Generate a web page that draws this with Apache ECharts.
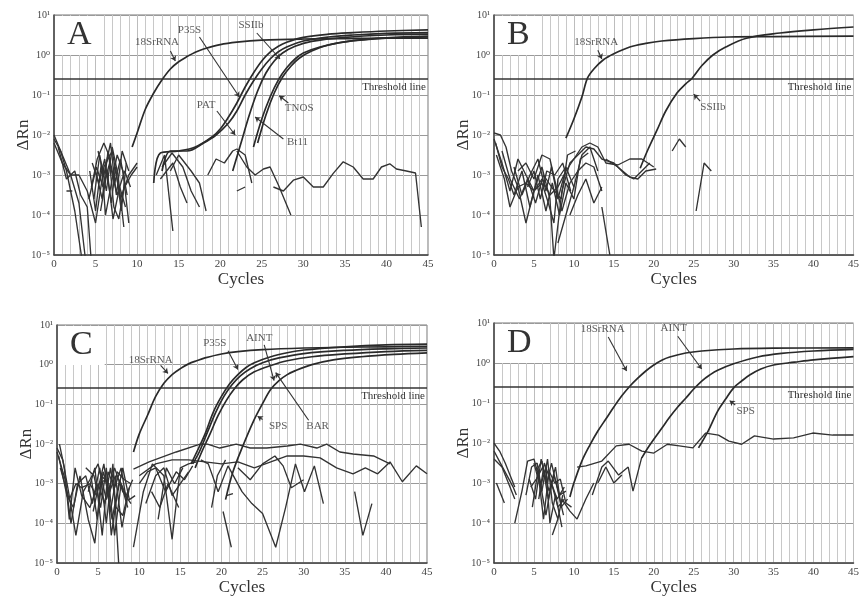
<!DOCTYPE html>
<html lang="en">
<head>
  <meta charset="utf-8">
  <title>Real-time PCR amplification plots A-D</title>
  <script type="text/javascript" src="https://cdn.jsdelivr.net/npm/echarts@6/dist/echarts.min.js"></script>
  <style type="text/css">
    * { margin: 0; padding: 0; }
    html, body, #chart { width: 100%; height: 100%; overflow: hidden; background: #fff; }
  </style>
</head>
<body>
  <div id="chart"></div>
  <script type="text/javascript">
    // every point is [cycle, log10(ΔRn)]
    var threshold = 0.26;

    // ---- panel A ----
    var a18S = [[9.4,-2.3],[10,-1.95],[11,-1.35],[12,-0.95],[13,-0.62],[14,-0.35],[15,-0.17],[16,-0.04],[17,0.07],[18,0.15],[20,0.26],[22,0.32],[25,0.37],[30,0.4],[35,0.41],[40,0.42],[45,0.42]];
    var aP35S = [[12,-3.2],[12.8,-2.45],[15,-2.4],[17,-2.3],[19,-2.05],[20,-1.85],[21,-1.55],[22,-1.2],[23,-0.8],[24,-0.45],[25,-0.15],[26,0.07],[27,0.22],[28,0.32],[30,0.44],[33,0.52],[36,0.56],[40,0.6],[45,0.63]];
    var aSSIIb = [[13,-2.9],[14,-2.4],[16,-2.4],[18,-2.2],[19.5,-2.0],[21,-1.7],[22,-1.4],[23,-1.0],[24,-0.65],[25,-0.35],[26,-0.1],[27,0.08],[28,0.2],[30,0.35],[33,0.45],[36,0.5],[40,0.54],[45,0.56]];
    var aPAT = [[21.5,-2.9],[22.5,-2.2],[23.5,-1.5],[24.5,-0.9],[25.5,-0.45],[26.5,-0.15],[27.5,0.05],[29,0.22],[31,0.34],[35,0.44],[40,0.5],[45,0.52]];
    var aTNOS = [[24.5,-2.2],[25.5,-1.5],[26.5,-0.95],[27.5,-0.55],[28.5,-0.28],[29.5,-0.08],[31,0.1],[33,0.25],[36,0.36],[40,0.43],[45,0.47]];
    var aBt11 = [[24,-2.3],[25,-1.6],[26,-1.05],[27,-0.62],[28,-0.32],[29,-0.1],[30,0.05],[32,0.2],[35,0.33],[40,0.42],[45,0.45]];
    var aNoise = [
      [[0,-2.0],[1,-2.5],[2,-3.0],[3,-3.7],[4,-5.5]],
      [[0,-2.1],[0.8,-2.4],[1.5,-2.9],[2.5,-3.9],[3.5,-5.3]],
      [[0,-2.2],[1,-2.7],[2,-3.0],[3,-3.0],[4,-3.4],[5,-4.2],[6,-2.8],[7,-2.4],[8,-3.6],[9,-3.0],[10,-2.7]],
      [[0.5,-2.3],[1.5,-3.1],[2.5,-2.9],[3.2,-3.5],[4,-3.8],[4.5,-5.2]],
      [[4.5,-3.3],[5.2,-2.6],[6,-2.2],[6.6,-2.5],[7.2,-3.8],[7.8,-4.1],[8.5,-3.2]],
      [[4.8,-3.6],[5.5,-2.5],[6.3,-3.4],[7,-2.3],[7.7,-3.0],[8.4,-4.3]],
      [[5,-2.9],[5.8,-3.6],[6.5,-2.4],[7.3,-3.2],[8,-2.6],[8.8,-3.5]],
      [[4.3,-2.9],[5,-3.9],[5.7,-2.7],[6.2,-4.0],[7,-3.1],[7.6,-2.5],[8.3,-2.9],[9,-4.2]],
      [[5.3,-2.4],[6,-3.0],[6.8,-2.2],[7.5,-3.5],[8.2,-2.4],[9,-2.9]],
      [[4.6,-2.7],[5.4,-3.2],[6.1,-2.6],[6.9,-3.7],[7.4,-2.8],[8.1,-3.9],[8.7,-2.7]],
      [[5.6,-3.9],[6.4,-2.9],[7.1,-4.1],[7.9,-3.3],[8.6,-3.8]],
      [[4.2,-3.6],[5.1,-2.8],[5.9,-3.3],[6.7,-2.7],[7.6,-3.5],[8.5,-2.9],[9.2,-3.3]],
      [[8.5,-3.3],[9.3,-3.0],[10,-2.8]],
      [[1.5,-3.4],[2.2,-3.4]],
      [[12.3,-3.0],[13.3,-2.5],[14.3,-4.4]],
      [[13,-2.8],[14.2,-2.45],[15.5,-2.8],[16.5,-3.4],[17.5,-3.8]],
      [[14,-2.9],[15,-2.5],[16.5,-2.9],[17.5,-3.2],[18.3,-3.9]],
      [[12.8,-3.1],[14.3,-2.7],[15.2,-3.3],[16,-3.7]],
      [[22,-3.4],[23,-3.3]],
      [[18.5,-3.0],[19.5,-2.6],[20.5,-2.7],[21.5,-2.4],[22,-2.35],[23,-2.5],[23.8,-3.2]],
      [[22,-2.4],[23.2,-2.8],[24.2,-3.0],[25.2,-2.85],[26,-2.8],[27,-3.25],[28.5,-4.0]],
      [[26.4,-3.3],[27.6,-3.4],[28.8,-3.13],[30,-3.05],[31.2,-3.3],[32.4,-3.3],[33.6,-2.96],[34.8,-2.67],[36,-2.8],[37.2,-3.1],[38.4,-3.1],[39.4,-2.8],[40.4,-2.72],[41.2,-2.85],[42.4,-2.9],[43.5,-2.95],[44.2,-4.3]]
    ];
    var aNotes = [
      ['18SrRNA', [12.4,0.32], [14.0,0.1], [14.6,-0.15]],
      ['P35S', [16.3,0.62], [17.5,0.45], [22.3,-1.05]],
      ['SSIIb', [23.7,0.75], [24.4,0.55], [27.2,-0.1]],
      ['PAT', [18.3,-1.25], [19.6,-1.4], [21.8,-2.0]],
      ['TNOS', [29.5,-1.33], [28.2,-1.2], [27.1,-1.02]],
      ['Bt11', [29.3,-2.17], [27.6,-2.1], [24.2,-1.55]]
    ];

    // ---- panel B ----
    var b18S = [[9,-2.08],[10,-1.6],[11,-1.05],[11.7,-0.58],[12.5,-0.35],[13.7,-0.12],[15,0.03],[17,0.2],[19,0.29],[21,0.35],[25,0.41],[29.5,0.45],[35,0.46],[45,0.47]];
    var bSSIIb = [[18.3,-2.83],[19.3,-2.35],[20.4,-1.88],[21.5,-1.4],[22.9,-0.95],[24,-0.72],[24.8,-0.58],[26,-0.27],[27.4,0],[29,0.2],[31.6,0.42],[35.8,0.55],[40,0.63],[45,0.7]];
    var bNoise = [
      [[0,-1.95],[0.8,-2.0],[1.5,-2.3],[2.2,-2.9],[3,-3.3],[4,-3.2],[5,-3.4],[6,-3.1],[7,-3.5],[8,-3.3],[9,-2.9],[10,-2.6],[11,-2.3],[12,-2.2],[13,-2.3],[14,-2.7],[15.5,-2.75],[17,-2.6],[18.5,-2.6],[20,-2.8]],
      [[0,-2.1],[1,-2.7],[2,-3.4],[3,-2.6],[4,-3.0],[5,-3.4],[6,-2.8],[7,-3.6],[7.5,-5.1],[8.5,-3.4],[9.5,-2.7],[10.5,-2.5],[11.5,-2.3],[12.5,-2.35],[13.5,-2.6],[15,-2.7],[16.5,-3.0],[17.5,-3.1],[18.5,-2.9],[19.5,-2.7]],
      [[0.2,-2.2],[1,-2.8],[1.8,-3.1],[2.5,-3.5],[3.5,-2.9],[4.5,-3.8],[5.5,-3.0],[6.5,-3.9],[7.3,-3.2],[8.2,-4.0],[9,-3.2],[10,-3.6],[10.8,-2.6],[11.8,-2.45]],
      [[0.3,-2.5],[1.3,-3.1],[2,-3.8],[3,-3.3],[4,-4.2],[5,-3.4],[6,-3.2],[6.8,-3.7],[7.5,-4.2],[8,-3.1],[9,-2.8],[10,-3.3]],
      [[2.5,-2.8],[3.5,-3.5],[4.5,-3.0],[5.5,-2.6],[6.5,-3.4],[7.2,-2.8],[8,-3.6],[8.8,-3.0]],
      [[3,-2.9],[4,-2.7],[5,-3.1],[6,-2.5],[7,-2.6],[7.8,-3.3],[8.5,-3.9],[9.5,-3.2],[10.5,-2.9],[11.5,-2.7],[12.5,-2.8],[13.5,-3.4]],
      [[1,-2.4],[2,-3.1],[3.2,-3.6],[4.2,-3.1],[5.2,-3.7],[6.2,-3.0],[7.2,-3.3],[8.4,-3.6],[9.2,-2.5],[10.2,-2.4]],
      [[4.2,-3.3],[5,-2.9],[5.8,-3.6],[6.6,-2.9],[7.6,-3.0],[8.6,-2.7],[9.6,-3.4]],
      [[8,-4.7],[9,-4.0],[10,-3.3],[11,-2.5],[12,-2.3],[13,-2.9]],
      [[9.5,-4.0],[10.5,-3.5],[11.5,-3.1],[12.5,-3.7],[13.5,-3.3]],
      [[13.5,-3.8],[14.5,-5.0]],
      [[14,-2.6],[15.5,-2.8],[17,-3.05],[18,-3.1],[19,-2.9],[20.3,-2.85]],
      [[22.3,-2.4],[23.2,-2.1],[24,-2.3]],
      [[25.3,-3.9],[26.3,-2.7],[27.2,-2.9]]
    ];
    var bNotes = [
      ['18SrRNA', [12.8,0.32], [13.0,0.12], [13.5,-0.1]],
      ['SSIIb', [27.4,-1.3], [25.8,-1.15], [25.0,-0.98]]
    ];

    // ---- panel C ----
    var c18S = [[9.3,-2.2],[10,-1.75],[11,-1.28],[12,-0.8],[13,-0.47],[14,-0.25],[15,-0.1],[16,0.02],[17,0.1],[18,0.17],[20,0.27],[22,0.33],[25,0.38],[30,0.42],[35,0.44],[40,0.45],[45,0.46]];
    var cP35S = [[16.3,-2.5],[17,-2.2],[18,-1.75],[19,-1.2],[20,-0.8],[21,-0.48],[22,-0.25],[23,-0.07],[24,0.05],[26,0.2],[28,0.3],[30,0.37],[35,0.45],[40,0.5],[45,0.52]];
    var cAINT = [[16.5,-2.5],[17.3,-2.2],[18.3,-1.7],[19.3,-1.2],[20.3,-0.8],[21.3,-0.5],[22.3,-0.28],[23.5,-0.1],[25,0.05],[27,0.17],[30,0.28],[35,0.36],[40,0.4],[45,0.42]];
    var cBAR = [[16.8,-2.6],[17.6,-2.2],[18.6,-1.75],[19.6,-1.28],[20.6,-0.9],[21.6,-0.6],[22.6,-0.38],[24,-0.18],[26,-0.02],[28,0.1],[31,0.2],[35,0.27],[40,0.33],[45,0.36]];
    var cSPS = [[20.5,-3.4],[21.4,-2.7],[22.6,-2.05],[23.9,-1.42],[25,-0.98],[26,-0.62],[27,-0.4],[28,-0.25],[29,-0.15],[31,0.0],[33.6,0.12],[37,0.2],[41,0.26],[45,0.3]];
    var cNoise = [
      [[0,-2.1],[0.7,-2.4],[1.4,-3.2],[2.3,-4.3],[3.2,-3.2],[4,-2.9],[5,-2.5],[6,-3.4],[7,-2.6],[8,-3.2],[9,-3.5]],
      [[0,-2.2],[1,-2.9],[1.7,-4.0],[2.5,-3.0],[3.5,-2.8],[4.3,-3.5],[5.2,-2.6],[6,-4.0],[6.8,-2.5],[7.5,-5.0]],
      [[0.2,-2.3],[1.2,-3.3],[2,-3.6],[2.8,-2.8],[3.8,-3.9],[4.6,-4.5],[5.4,-2.8],[6.3,-3.0],[7,-4.3],[7.8,-3.0],[8.6,-3.6]],
      [[0.4,-2.6],[1.5,-3.4],[2.3,-3.0],[3,-3.1],[4,-3.0],[4.8,-3.3],[5.7,-2.5],[6.5,-3.7],[7.3,-2.7],[8.2,-2.9],[9,-3.0]],
      [[3.5,-2.6],[4.5,-2.8],[5.3,-3.6],[6,-2.6],[6.6,-4.3],[7.3,-3.3],[8,-2.6],[8.8,-3.4],[9.5,-3.3]],
      [[3.8,-3.2],[4.6,-2.6],[5.5,-4.3],[6.2,-2.7],[7,-3.1],[7.8,-2.6],[8.5,-3.5]],
      [[0.3,-2.0],[0.9,-2.6],[1.5,-3.9],[2.2,-2.6],[3,-3.3],[4,-3.6],[5,-3.0],[5.8,-3.5],[6.5,-2.6],[7.2,-3.6],[8,-3.8],[8.7,-3.2]],
      [[4.2,-2.9],[4.9,-3.9],[5.6,-2.7],[6.4,-3.2],[7.1,-2.8],[7.9,-4.1],[8.8,-3.1]],
      [[4.4,-3.7],[5.1,-3.0],[5.9,-2.9],[6.7,-3.9],[7.6,-2.9],[8.4,-3.3],[9.2,-2.9]],
      [[9.3,-2.63],[11.2,-2.45],[14.5,-2.2],[17.4,-2.0],[18.3,-2.0],[19.8,-2.1],[21.8,-2.0],[23.5,-2.1],[25.5,-2.1],[28,-2.05],[29.6,-2.0],[31.6,-2.1],[32.8,-2.0],[34.4,-2.2],[36,-2.25],[38.5,-2.3],[40.5,-2.5]],
      [[10,-2.8],[12,-2.5],[14,-2.4],[16,-2.4],[18,-2.45],[20,-2.5],[22,-2.45],[24,-2.6],[26,-2.45],[28,-2.3],[30,-2.3],[32,-2.35],[34,-2.6],[36,-2.75],[37.5,-2.6],[39,-2.75],[40.5,-2.45],[42,-2.95],[43.7,-2.55],[45,-2.75]],
      [[17.5,-2.4],[18.4,-2.5],[19.6,-3.2],[20.8,-2.55],[22.5,-3.2],[23.7,-3.5],[25,-3.75],[26.6,-4.6],[27.8,-3.6],[29,-2.5],[30.1,-3.2],[31.3,-2.55],[32.4,-3.5]],
      [[22,-2.6],[23.5,-2.9],[25,-2.5],[26.5,-2.3],[27.5,-2.55],[28.5,-3.1],[30,-2.9]],
      [[36.2,-3.2],[37.2,-4.3],[38.3,-3.5]],
      [[20.2,-3.7],[21.2,-4.6]],
      [[20.6,-3.3],[21.4,-3.25]],
      [[9.3,-4.6],[10.5,-3.2],[11.6,-2.5],[13,-2.8],[14,-4.4],[15,-2.6],[16,-2.5],[17,-2.45]],
      [[10,-3.0],[11,-2.7],[12,-2.6],[13.2,-3.2],[14.5,-2.7],[15.5,-2.9],[16.5,-2.55]],
      [[10.8,-3.5],[12,-2.8],[13,-2.6],[14,-3.3],[15,-3.0],[16,-2.7]],
      [[12.3,-3.9],[13.3,-2.6],[14.3,-3.0],[15.3,-2.6]],
      [[11.5,-3.2],[12.5,-3.6],[13.5,-3.0],[14.8,-3.6]],
      [[18.8,-3.6],[19.5,-2.8],[20.5,-2.4]]
    ];
    var cNotes = [
      ['18SrRNA', [11.4,0.12], [12.6,-0.02], [13.5,-0.22]],
      ['P35S', [19.2,0.55], [20.8,0.35], [22.0,-0.12]],
      ['AINT', [24.6,0.68], [25.2,0.5], [26.4,-0.4]],
      ['SPS', [26.9,-1.55], [25.0,-1.38], [24.4,-1.3]],
      ['BAR', [31.7,-1.55], [30.6,-1.4], [26.6,-0.2]]
    ];

    // ---- panel D ----
    var d18S = [[9.5,-3.35],[10,-3.0],[11,-2.45],[12,-2.05],[13,-1.7],[14,-1.4],[15,-1.1],[16,-0.82],[17,-0.58],[18,-0.38],[19,-0.2],[20,-0.05],[21,0.07],[22,0.15],[24,0.25],[26,0.3],[30,0.35],[35,0.37],[45,0.38]];
    var dAINT = [[18.5,-2.37],[19.5,-2.05],[21,-1.63],[22,-1.35],[23,-1.1],[24,-0.88],[25,-0.65],[26,-0.45],[27,-0.3],[28,-0.18],[30,-0.02],[33,0.15],[36,0.24],[40,0.3],[45,0.34]];
    var dSPS = [[25.6,-2.12],[26.8,-1.7],[28,-1.2],[29,-0.9],[30,-0.62],[31,-0.45],[32,-0.3],[33.4,-0.15],[35,-0.05],[37.6,0.02],[40,0.08],[45,0.16]];
    var dNoise = [
      [[0,-2.0],[0.7,-2.2],[1.4,-2.5],[2,-2.8],[2.6,-3.1]],
      [[0,-2.2],[0.8,-2.5],[1.6,-2.8],[2.4,-3.1],[2.8,-3.3]],
      [[0,-2.4],[1,-2.6],[1.8,-3.0],[2.6,-3.4]],
      [[0.3,-3.0],[1.3,-3.5]],
      [[2.6,-4.0],[3.5,-3.2],[4.2,-2.45],[5,-2.4],[5.7,-2.9],[6.5,-3.8],[7.2,-3.0],[8,-3.6],[8.8,-3.4]],
      [[4,-3.3],[4.7,-2.6],[5.4,-2.5],[6,-3.2],[6.7,-2.4],[7.3,-3.5],[8,-3.9],[8.6,-3.3]],
      [[4.4,-2.9],[5.2,-3.4],[5.9,-2.4],[6.6,-3.0],[7.2,-2.5],[8,-3.2],[8.7,-3.8]],
      [[4.8,-3.6],[5.5,-2.7],[6.2,-3.9],[6.9,-2.7],[7.6,-3.0],[8.3,-2.9],[9,-3.5],[9.7,-3.6]],
      [[5,-2.5],[5.8,-3.1],[6.5,-2.6],[7,-4.0],[7.7,-3.3],[8.5,-4.1]],
      [[5.3,-2.7],[6,-2.45],[6.8,-3.4],[7.5,-2.8],[8.2,-3.3],[9,-3.2]],
      [[4.6,-3.1],[5.3,-2.9],[6.1,-2.6],[6.9,-3.2],[7.7,-2.6],[8.4,-3.6],[9.2,-3.4]],
      [[5.6,-3.4],[6.3,-2.5],[7,-2.9],[7.9,-3.4],[8.8,-3.1]],
      [[7.3,-4.3],[8,-3.9]],
      [[8.5,-3.4],[9.5,-3.7],[10.4,-3.9],[11.5,-3.4],[12.5,-3.0]],
      [[12.3,-3.3],[13.5,-2.6],[14.3,-2.45],[15.6,-2.8],[16.8,-2.6],[17.4,-3.2],[18.5,-2.35]],
      [[13,-3.0],[14,-2.6],[15,-3.0],[16,-2.8]],
      [[10.4,-2.6],[11.5,-2.57],[13.5,-2.45],[15.3,-2.07],[16.9,-2.03],[18.5,-2.2],[20,-2.25],[21.7,-2.03],[23.2,-2.07],[24.9,-2.12],[26.5,-1.75],[28.1,-1.8],[29.4,-1.95],[31,-2.03],[32.6,-1.82],[35,-1.9],[37.5,-1.87],[39.9,-1.75],[42.4,-1.8],[45,-1.8]]
    ];
    var dNotes = [
      ['18SrRNA', [13.6,0.85], [14.3,0.65], [16.6,-0.2]],
      ['AINT', [22.5,0.88], [23.0,0.67], [26.0,-0.15]],
      ['SPS', [31.5,-1.21], [30.2,-1.05], [29.5,-0.94]]
    ];

    var serif = '"Liberation Serif", "DejaVu Serif", serif';
    var ink = '#2a2a2a';

    var panels = [
      { letter: 'A', curves: [a18S, aP35S, aSSIIb, aPAT, aTNOS, aBt11], noise: aNoise, notes: aNotes,
        grid: { left: 54, top: 15, width: 374, height: 240 }, gap: 16 },
      { letter: 'B', curves: [b18S, bSSIIb], noise: bNoise, notes: bNotes,
        grid: { left: 494, top: 15, width: 361, height: 240 }, gap: 16 },
      { letter: 'C', curves: [c18S, cP35S, cAINT, cBAR, cSPS], noise: cNoise, notes: cNotes,
        grid: { left: 57, top: 325, width: 370, height: 240 }, gap: 14 },
      { letter: 'D', curves: [d18S, dAINT, dSPS], noise: dNoise, notes: dNotes,
        grid: { left: 494, top: 323, width: 363, height: 244 }, gap: 12 }
    ];

    function pts(arr) {
      return arr.map(function (p) { return [p[0], Math.pow(10, p[1])]; });
    }
    var supMap = { '-': '⁻', '0': '⁰', '1': '¹', '2': '²', '3': '³', '4': '⁴', '5': '⁵' };
    function sup(n) {
      return String(n).split('').map(function (ch) { return supMap[ch]; }).join('');
    }

    var grids = [], xAxes = [], yAxes = [], titles = [], series = [];
    panels.forEach(function (p, i) {
      grids.push(Object.assign({ show: true, borderColor: '#777', borderWidth: 1 }, p.grid));
      titles.push({
        text: p.letter,
        left: p.grid.left + 1, top: p.grid.top + 1,
        backgroundColor: '#fff',
        padding: [2, 12, 3, 12],
        textStyle: { fontFamily: serif, fontSize: 34, fontWeight: 'normal', color: '#333' }
      });
      xAxes.push({
        gridIndex: i, type: 'value', min: 0, max: 45, interval: 5,
        name: 'Cycles', nameLocation: 'middle', nameGap: p.gap,
        nameTextStyle: { fontFamily: serif, fontSize: 17, color: '#333', verticalAlign: 'top' },
        axisLine: { lineStyle: { color: '#444', width: 1.5 } },
        axisTick: { show: false },
        axisLabel: { fontFamily: serif, fontSize: 11, color: '#444', margin: 4 },
        splitLine: { show: true, lineStyle: { color: '#bdbdbd', width: 1 } },
        minorTick: { show: false, splitNumber: 5 },
        minorSplitLine: { show: true, lineStyle: { color: '#c8c8c8', width: 1 } }
      });
      yAxes.push({
        gridIndex: i, type: 'log', logBase: 10, min: 1e-5, max: 10,
        name: 'ΔRn', nameLocation: 'middle', nameGap: 22, nameMoveOverlap: false,
        nameTextStyle: { fontFamily: serif, fontSize: 17, color: '#333' },
        axisLine: { lineStyle: { color: '#444', width: 1.5 } },
        axisTick: { show: false },
        axisLabel: {
          fontFamily: serif, fontSize: 10, color: '#444', margin: 4,
          formatter: function (v) { return '10' + sup(Math.round(Math.log10(v))); }
        },
        splitLine: { show: true, lineStyle: { color: '#9a9a9a', width: 1 } }
      });

      p.noise.forEach(function (n) {
        series.push({
          type: 'line', xAxisIndex: i, yAxisIndex: i, data: pts(n),
          showSymbol: false, silent: true, animation: false,
          lineStyle: { color: '#333', width: 1.35 }
        });
      });
      p.curves.forEach(function (c, k) {
        var s = {
          type: 'line', xAxisIndex: i, yAxisIndex: i, data: pts(c),
          showSymbol: false, smooth: 0.35, silent: true, animation: false,
          lineStyle: { color: ink, width: 1.7 }
        };
        if (k === 0) {
          s.markLine = {
            silent: true, animation: false, symbol: 'none',
            lineStyle: { color: '#333', width: 1.6, type: 'solid' },
            label: {
              show: true, position: 'insideEndBottom', formatter: 'Threshold line',
              fontFamily: serif, fontSize: 11, color: '#333', distance: [2, 3]
            },
            data: [{ yAxis: threshold }]
          };
        }
        series.push(s);
      });
      series.push({
        type: 'scatter', xAxisIndex: i, yAxisIndex: i, symbolSize: 0.1,
        silent: true, animation: false, z: 5,
        data: p.notes.map(function (n) {
          return { name: n[0], value: [n[1][0], Math.pow(10, n[1][1])] };
        }),
        label: {
          show: true, position: 'inside', formatter: '{b}',
          fontFamily: serif, fontSize: 11, color: '#333'
        },
        markLine: {
          silent: true, animation: false, symbol: ['none', 'arrow'], symbolSize: 5,
          lineStyle: { color: '#333', width: 1.1, type: 'solid' },
          label: { show: false },
          data: p.notes.map(function (n) {
            return [
              { coord: [n[2][0], Math.pow(10, n[2][1])] },
              { coord: [n[3][0], Math.pow(10, n[3][1])] }
            ];
          })
        }
      });
    });

    var chart = echarts.init(document.getElementById('chart'));
    chart.setOption({
      backgroundColor: '#fff',
      animation: false,
      title: titles,
      grid: grids,
      xAxis: xAxes,
      yAxis: yAxes,
      series: series
    });
  </script>
</body>
</html>
